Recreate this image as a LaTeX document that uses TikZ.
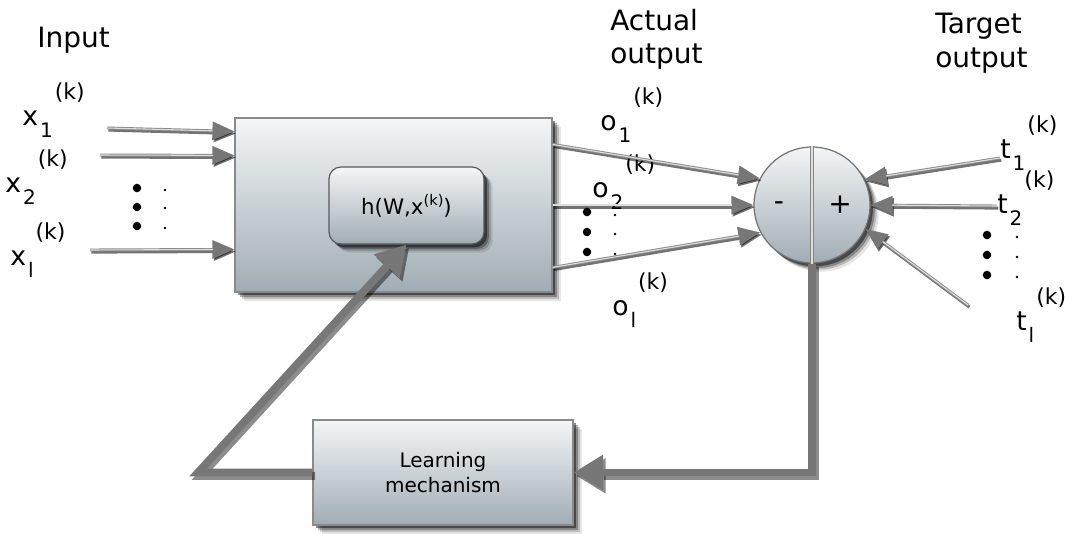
\documentclass[tikz,border=0pt]{standalone}
\usepackage{fontspec}
\setmainfont{DejaVu Sans}
\usetikzlibrary{arrows.meta,calc,shadows}

\definecolor{arrgray}{HTML}{777777}
\definecolor{shaftgray}{HTML}{8A8A8A}
\definecolor{coregray}{HTML}{DEDEDE}
\definecolor{boxtop}{HTML}{F4F6F7}
\definecolor{boxbot}{HTML}{A0ACB4}
\definecolor{boxedge}{HTML}{8A8A8A}

% symbol with subscript index and superscript (k)
\newcommand{\symlab}[2]{\fontsize{20pt}{24pt}\selectfont #1\hspace{1.5pt}\raisebox{-9.5pt}{\fontsize{15pt}{18pt}\selectfont #2}\hspace{1.5pt}\raisebox{19pt}{\fontsize{16.5pt}{19pt}\selectfont (k)}}

\tikzset{
  x=0.75pt, y=-0.75pt,
  soft shadow/.style={
    general shadow={fill=black, opacity=.10, shadow xshift=6.5pt, shadow yshift=-6.5pt},
    general shadow={fill=black, opacity=.18, shadow xshift=5pt, shadow yshift=-5pt},
    general shadow={fill=black, opacity=.28, shadow xshift=3.6pt, shadow yshift=-3.8pt},
    general shadow={fill=black, opacity=.45, shadow xshift=2.2pt, shadow yshift=-2.5pt}},
  panel/.style={draw=boxedge, line width=0.9pt, top color=boxtop, bottom color=boxbot,
    inner sep=0pt, soft shadow},
  lab/.style={anchor=base west, inner sep=0pt},
  heading/.style={anchor=north west, inner sep=0pt, align=left,
    font=\fontsize{21pt}{25pt}\selectfont},
  thin arrow/.style={draw=shaftgray, line width=2.2pt,
    -{Triangle[length=16.5pt,width=13.5pt,fill=arrgray,color=arrgray]}},
  thin core/.style={draw=coregray, line width=0.8pt, shorten >=16pt},
  thin shadow/.style={draw=black, opacity=.55, line width=2.2pt,
    -{Triangle[length=16.5pt,width=13.5pt]},
    transform canvas={shift={(1pt,-1.6pt)}}},
  fat/.style={draw=arrgray, line width=5.8pt, line join=miter},
  fat shadow/.style={draw=black, opacity=.45, line width=6pt, line join=miter,
    transform canvas={shift={(2pt,-2.5pt)}}},
  fat tip/.style={-{Triangle[length=22pt,width=25pt]}},
  divider/.style={draw=arrgray!90, line width=0.9pt, double=coregray, double distance=1.5pt},
  bigdot/.style={fill=black},
  smalldot/.style={fill=black},
}

\newcommand{\feed}[2]{%
  \draw[thin shadow] (#1) -- (#2);
  \draw[thin arrow] (#1) -- (#2);
  \draw[thin core] (#1) -- (#2);}

\begin{document}
\begin{tikzpicture}
\path[use as bounding box, fill=white] (0,0) rectangle (1065,533);

% headings
\node[lab, font=\fontsize{21pt}{25pt}\selectfont] (inhead) at (37,47) {Input};
\node[heading] (acthead) at (610,9) {Actual\\output};
\node[heading] (tgthead) at (935,13) {Target\\output};

% blocks
\node[panel, minimum width=237.75pt, minimum height=130.5pt] (net) at (393.5,205) {};
\node[panel, draw=black!65, rounded corners=9pt, minimum width=116.25pt, minimum height=57.75pt,
  font=\fontsize{16pt}{19pt}\selectfont] (h) at (406.5,205.5)
  {h(W,x\raisebox{7pt}{\fontsize{11pt}{13pt}\selectfont(k)})};
\node[panel, circle, draw=black!55, minimum size=87pt] (sum) at (812,205) {};
\node[panel, minimum width=195pt, minimum height=78.75pt, align=center,
  font=\fontsize{15pt}{18.5pt}\selectfont] (learn) at (443,472.5) {Learning\\mechanism};

\draw[divider] (sum.north) -- (sum.south);
\node[font=\fontsize{21pt}{25pt}\selectfont] (minus) at (779,206) {-};
\node[font=\fontsize{21pt}{25pt}\selectfont] (plus) at (840,205) {+};

% input labels
\node[lab] (x1lab) at (22,125) {\symlab{x}{1}};
\node[lab] (x2lab) at (5,192) {\symlab{x}{2}};
\node[lab] (xllab) at (10,265) {\symlab{x}{l}};

% output labels
\node[lab] (o1lab) at (600,130) {\symlab{o}{1}};
\node[lab] (o2lab) at (592,197) {\symlab{o}{2}};
\node[lab] (ollab) at (612,315) {\symlab{o}{l}};

% target labels
\node[lab] (t1lab) at (1000,158) {\symlab{t}{1}};
\node[lab] (t2lab) at (997,213) {\symlab{t}{2}};
\node[lab] (tllab) at (1016,330) {\symlab{t}{l}};

% free ends of the signal lines
\coordinate (x1s) at (107,128);
\coordinate (x2s) at (100,155);
\coordinate (xls) at (90,250);
\coordinate (x1e) at ($(net.north west)+(0,14)$);
\coordinate (x2e) at ($(net.north west)+(0,38)$);
\coordinate (xle) at ($(net.north west)+(0,132)$);
\coordinate (o1s) at ($(net.north east)+(0,27)$);
\coordinate (ols) at ($(net.north east)+(0,150)$);
\coordinate (t1s) at (1000,158);
\coordinate (t2s) at (997,206);
\coordinate (tls) at (968,305);
\coordinate (corner) at (198,472.5);

% signal lines
\feed{x1s}{x1e}
\feed{x2s}{x2e}
\feed{xls}{xle}
\feed{o1s}{sum.153}
\feed{net.east}{sum.180}
\feed{ols}{sum.208}
\feed{t1s}{sum.26}
\feed{t2s}{sum.0}
\feed{tls}{sum.-24}

% dots
\foreach \y in {188,207,226} \fill[bigdot] (137,\y) circle (3.2pt);
\foreach \y in {190,208,228} \fill[smalldot] (165,\y) circle (1pt);
\foreach \y in {212,232,252} \fill[bigdot] (587,\y) circle (3.2pt);
\foreach \y in {215,234,254} \fill[smalldot] (615,\y) circle (1pt);
\foreach \y in {235,255,275} \fill[bigdot] (987,\y) circle (3.2pt);
\foreach \y in {237,257,277} \fill[smalldot] (1017,\y) circle (1pt);

% feedback loop
\draw[fat shadow, fat tip] (sum.south) |- (learn.east);
\draw[fat, fat tip] (sum.south) |- (learn.east);
\draw[fat shadow, fat tip] (learn.west) -- (corner) -- (h.south);
\draw[fat, fat tip] (learn.west) -- (corner) -- (h.south);
\end{tikzpicture}
\end{document}
